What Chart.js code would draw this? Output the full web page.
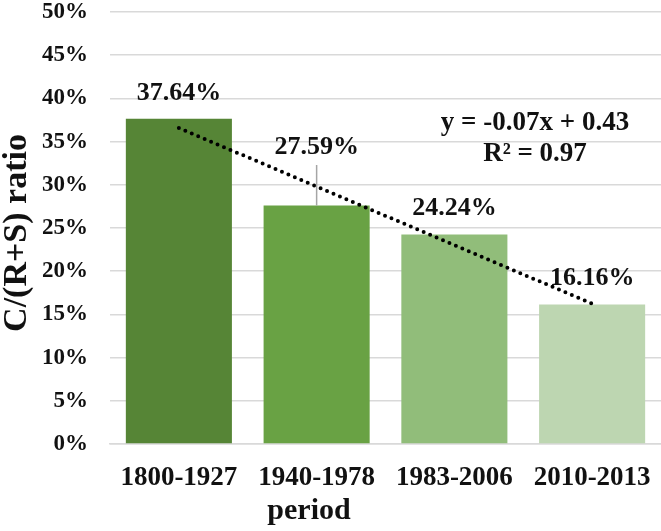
<!DOCTYPE html>
<html>
<head>
<meta charset="utf-8">
<script src="https://cdn.jsdelivr.net/npm/chart.js@4"></script>
<style>
html,body{margin:0;padding:0;background:#fff;}
#wrap{width:661px;height:531px;position:relative;}
</style>
</head>
<body>
<div id="wrap"><canvas id="c" width="661" height="531"></canvas></div>
<script>
const categories = ["1800-1927", "1940-1978", "1983-2006", "2010-2013"];
const ratioValues = [37.64, 27.59, 24.24, 16.16];
const errorPlus = [0, 4.7, 0, 0];
const valueLabels = ["37.64%", "27.59%", "24.24%", "16.16%"];
const yTicks = [0, 5, 10, 15, 20, 25, 30, 35, 40, 45, 50];
const barColors = ["#568536", "#69a244", "#91bd7a", "#bdd6b1"];
const equationText = ["y = -0.07x + 0.43", "R\u00b2 = 0.97"];

// least-squares linear trend (as Excel's trendline)
const n = ratioValues.length;
const xs = ratioValues.map((_, i) => i + 1);
const mx = xs.reduce((a, b) => a + b, 0) / n;
const my = ratioValues.reduce((a, b) => a + b, 0) / n;
let sxy = 0, sxx = 0;
for (let i = 0; i < n; i++) { sxy += (xs[i] - mx) * (ratioValues[i] - my); sxx += (xs[i] - mx) ** 2; }
const slope = sxy / sxx, icpt = my - slope * mx;
const trendValues = xs.map(x => icpt + slope * x);

const FONT = "'Liberation Serif', 'Times New Roman', serif";

const overlay = {
  id: 'overlay',
  afterDatasetsDraw(chart) {
    const ctx = chart.ctx;
    const yS = chart.scales.y;
    const meta = chart.getDatasetMeta(1);
    ctx.save();
    ctx.strokeStyle = '#a5a5a5';
    ctx.lineWidth = 1.5;
    ratioValues.forEach((v, i) => {
      if (!errorPlus[i]) return;
      const x = meta.data[i].x;
      ctx.beginPath();
      ctx.moveTo(x, yS.getPixelForValue(v));
      ctx.lineTo(x, yS.getPixelForValue(v + errorPlus[i]));
      ctx.stroke();
    });
    ctx.fillStyle = '#111';
    ctx.font = "bold 26px " + FONT;
    ctx.textAlign = 'center';
    ctx.textBaseline = 'middle';
    ratioValues.forEach((v, i) => {
      const x = meta.data[i].x;
      let y;
      if (errorPlus[i]) y = yS.getPixelForValue(v + errorPlus[i]) - 18;
      else y = yS.getPixelForValue(v) - 26;
      ctx.fillText(valueLabels[i], x, y);
    });
    ctx.font = "bold 27px " + FONT;
    ctx.fillText(equationText[0], 535, 123);
    ctx.fillText(equationText[1], 535, 154);
    ctx.restore();
  },
  afterDraw(chart) {
    const ctx = chart.ctx;
    ctx.save();
    ctx.fillStyle = '#111';
    ctx.textAlign = 'center';
    ctx.textBaseline = 'middle';
    ctx.font = "bold 30px " + FONT;
    ctx.fillText('period', 309, 511);
    ctx.translate(17, 233);
    ctx.rotate(-Math.PI / 2);
    ctx.font = "bold 34px " + FONT;
    ctx.fillText('C/(R+S) ratio', 0, 0);
    ctx.restore();
  }
};

new Chart(document.getElementById('c'), {
  data: {
    labels: categories,
    datasets: [
      {
        type: 'line',
        data: trendValues,
        borderColor: '#000',
        borderWidth: 4,
        borderDash: [0, 7],
        borderCapStyle: 'round',
        pointRadius: 0,
        fill: false,
        order: 0
      },
      {
        type: 'bar',
        data: ratioValues,
        backgroundColor: barColors,
        borderWidth: 0,
        categoryPercentage: 1,
        barPercentage: 0.77,
        order: 1
      }
    ]
  },
  options: {
    responsive: false,
    animation: false,
    events: [],
    layout: { padding: { top: 12, right: 0, left: 0, bottom: 0 } },
    plugins: { legend: { display: false }, tooltip: { enabled: false } },
    scales: {
      x: {
        grid: { display: false, drawTicks: false },
        border: { display: true, color: '#d9d9d9', width: 1.5 },
        ticks: { color: '#111', font: { family: FONT, size: 27, weight: 'bold' }, padding: 18, maxRotation: 0, autoSkip: false },
        afterFit(s) { s.height = 87; s.paddingLeft = 0; s.paddingRight = 0; }
      },
      y: {
        min: 0, max: 50,
        afterBuildTicks(s) { s.ticks = yTicks.map(v => ({ value: v })); },
        grid: { color: '#d9d9d9', lineWidth: 1.5, drawTicks: false },
        border: { display: false },
        ticks: {
          color: '#111',
          font: { family: FONT, size: 23, weight: 'bold' },
          padding: 22,
          callback: v => v + '%'
        },
        afterFit(s) { s.width = 110; s.paddingTop = 0; s.paddingBottom = 0; }
      }
    }
  },
  plugins: [overlay]
});
</script>
</body>
</html>
